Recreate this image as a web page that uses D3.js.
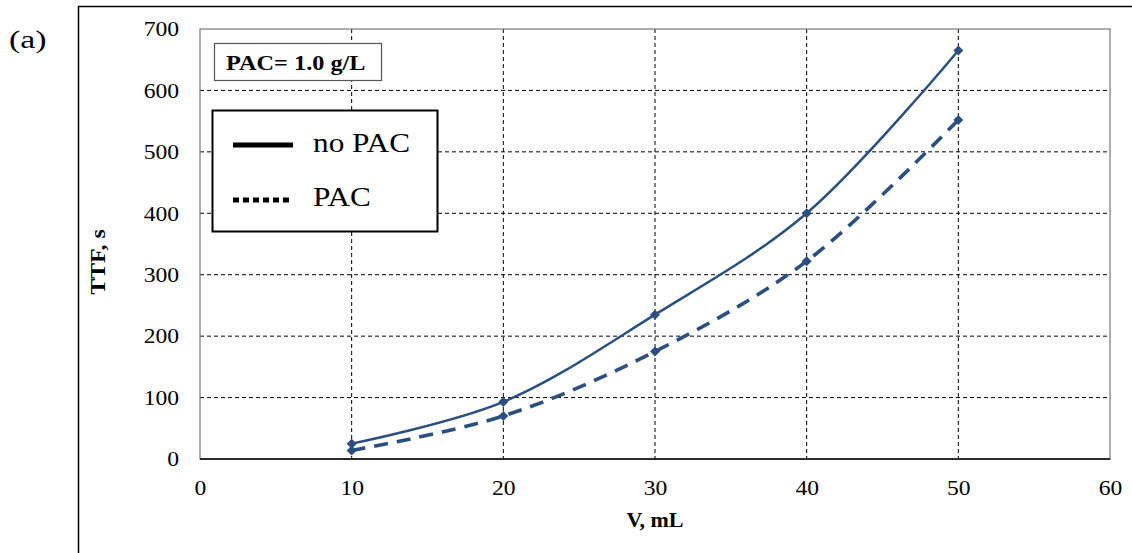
<!DOCTYPE html>
<html>
<head>
<meta charset="utf-8">
<script src="https://cdn.jsdelivr.net/npm/d3@7"></script>
<style>
  body { margin: 0; background: #fff; }
  svg { display: block; font-family: "Liberation Serif", "Times New Roman", serif; }
</style>
</head>
<body>
<svg id="chart" width="1132" height="553"></svg>
<script>
// data
const volumes = [10, 20, 30, 40, 50];
const ttfNoPac = [25, 93, 235, 400, 665];
const ttfPac = [14, 70, 175, 322, 552];
const xTicks = [0, 10, 20, 30, 40, 50, 60];
const yTicks = [0, 100, 200, 300, 400, 500, 600, 700];

const svg = d3.select('#chart');
const margin = { top: 29, left: 200, right: 22, bottom: 94 };
const width = 1132 - margin.left - margin.right;
const height = 553 - margin.top - margin.bottom;
const color = '#2b4f81';
const stretch = 1.18; // the original glyphs are wider than Liberation Serif

// outer frame (cut by the page on right and bottom)
svg.append('path')
  .attr('d', 'M78.5,560 V6.5 H1140')
  .attr('fill', 'none')
  .attr('stroke', '#000')
  .attr('stroke-width', 1.5);

svg.append('text')
  .attr('transform', 'translate(9,48) scale(1.3,1)')
  .attr('font-size', 26)
  .text('(a)');

const chart = svg.append('g')
  .attr('transform', `translate(${margin.left},${margin.top})`);

const xScale = d3.scaleLinear().domain([0, 60]).range([0, width]);
const yScale = d3.scaleLinear().domain([0, 700]).range([height, 0]);

// gridlines
chart.append('g')
  .selectAll('line')
  .data(xTicks.slice(1, -1))
  .join('line')
  .attr('x1', d => xScale(d)).attr('x2', d => xScale(d))
  .attr('y1', 0).attr('y2', height)
  .attr('stroke', '#000').attr('stroke-width', 1)
  .attr('stroke-dasharray', '4,3');

chart.append('g')
  .selectAll('line')
  .data(yTicks.slice(1, -1))
  .join('line')
  .attr('x1', 0).attr('x2', width)
  .attr('y1', d => yScale(d)).attr('y2', d => yScale(d))
  .attr('stroke', '#000').attr('stroke-width', 1)
  .attr('stroke-dasharray', '4,3');

// plot border
chart.append('rect')
  .attr('x', 0).attr('y', 0)
  .attr('width', width).attr('height', height)
  .attr('fill', 'none')
  .attr('stroke', '#777').attr('stroke-width', 1.2);

chart.append('line')
  .attr('x1', 0).attr('x2', width)
  .attr('y1', height).attr('y2', height)
  .attr('stroke', '#000').attr('stroke-width', 1.5);

// axes (labels only)
const xAxis = d3.axisBottom(xScale).tickValues(xTicks).tickSize(0).tickPadding(0);
const yAxis = d3.axisLeft(yScale).tickValues(yTicks).tickSize(0).tickPadding(0);

const xAxisG = chart.append('g')
  .attr('transform', `translate(0,${height})`)
  .call(xAxis);
const yAxisG = chart.append('g').call(yAxis);

[xAxisG, yAxisG].forEach(g => {
  g.select('.domain').remove();
  g.selectAll('text')
    .attr('font-family', '"Liberation Serif", serif')
    .attr('font-size', 20)
    .attr('fill', '#000');
});
xAxisG.selectAll('text')
  .attr('dy', null).attr('y', 36)
  .attr('transform', `scale(${stretch},1)`);
yAxisG.selectAll('text')
  .attr('dy', '0.34em').attr('x', -21 / stretch)
  .attr('transform', `scale(${stretch},1)`);

// axis titles
chart.append('text')
  .attr('transform', `translate(${xScale(30)},${527 - margin.top}) scale(1.1,1)`)
  .attr('text-anchor', 'middle')
  .attr('font-weight', 'bold')
  .attr('font-size', 20)
  .text('V, mL');

chart.append('text')
  .attr('transform', `translate(${105 - margin.left},${262 - margin.top}) rotate(-90) scale(1.17,1)`)
  .attr('text-anchor', 'middle')
  .attr('font-weight', 'bold')
  .attr('font-size', 20.5)
  .text('TTF, s');

// series
const series = [
  { name: 'no PAC', values: ttfNoPac, dash: null, width: 2.5 },
  { name: 'PAC', values: ttfPac, dash: '14,9', width: 3.6 }
];

const line = d3.line()
  .x(d => xScale(d.x))
  .y(d => yScale(d.y))
  .curve(d3.curveCatmullRom.alpha(0.5));

const diamond = d3.symbol().type(d3.symbolDiamond2).size(64);

series.forEach(s => {
  const pts = volumes.map((v, i) => ({ x: v, y: s.values[i] }));
  chart.append('path')
    .datum(pts)
    .attr('d', line)
    .attr('fill', 'none')
    .attr('stroke', color)
    .attr('stroke-width', s.width)
    .attr('stroke-dasharray', s.dash);
  chart.append('g')
    .selectAll('path')
    .data(pts)
    .join('path')
    .attr('d', diamond)
    .attr('transform', d => `translate(${xScale(d.x)},${yScale(d.y)})`)
    .attr('fill', color);
});

// PAC label box
svg.append('rect')
  .attr('x', 214.5).attr('y', 43.5)
  .attr('width', 167).attr('height', 37)
  .attr('fill', '#fff')
  .attr('stroke', '#555').attr('stroke-width', 1.2);
svg.append('text')
  .attr('transform', 'translate(226,70) scale(1.13,1)')
  .attr('font-weight', 'bold')
  .attr('font-size', 21.5)
  .text('PAC= 1.0 g/L');

// legend
const legend = svg.append('g');
legend.append('rect')
  .attr('x', 212.5).attr('y', 110.5)
  .attr('width', 225).attr('height', 121)
  .attr('fill', '#fff')
  .attr('stroke', '#000').attr('stroke-width', 2);

const legendItems = [
  { name: 'no PAC', dash: null, y: 145, base: 152 },
  { name: 'PAC', dash: '6,4', y: 200, base: 206 }
];
legendItems.forEach(it => {
  legend.append('line')
    .attr('x1', 233).attr('x2', 293)
    .attr('y1', it.y).attr('y2', it.y)
    .attr('stroke', '#000').attr('stroke-width', 5)
    .attr('stroke-dasharray', it.dash);
  legend.append('text')
    .attr('transform', `translate(313,${it.base}) scale(${stretch},1)`)
    .attr('font-size', 26.5)
    .text(it.name);
});
</script>
</body>
</html>
